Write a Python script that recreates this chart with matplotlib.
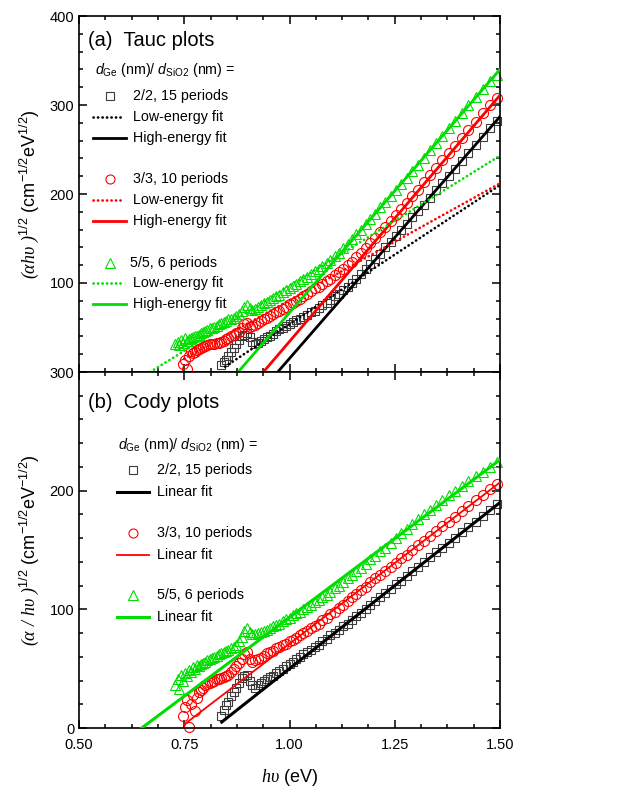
import matplotlib
matplotlib.use('Agg')
import matplotlib.pyplot as plt
from matplotlib.ticker import MultipleLocator

plt.rcParams['font.family'] = ['Liberation Sans', 'DejaVu Sans']
plt.rcParams['mathtext.fontset'] = 'custom'
plt.rcParams['mathtext.rm'] = 'Liberation Sans'
plt.rcParams['mathtext.it'] = 'Liberation Sans:italic'
plt.rcParams['mathtext.cal'] = 'Liberation Serif:italic'

# photon energy of the measured points (eV), high to low
hv = [1.494, 1.476, 1.459, 1.442, 1.425, 1.409, 1.393, 1.378, 1.363, 1.348,
      1.333, 1.319, 1.305, 1.292, 1.278, 1.265, 1.253, 1.240, 1.228, 1.216,
      1.204, 1.192, 1.181, 1.170, 1.159, 1.148, 1.138, 1.127, 1.117, 1.107,
      1.097, 1.088, 1.078, 1.069, 1.060, 1.051, 1.042, 1.033, 1.025, 1.016,
      1.008, 1.000, 0.992, 0.984, 0.976, 0.969, 0.961, 0.954, 0.947, 0.939,
      0.932, 0.925, 0.919, 0.912, 0.905, 0.899, 0.892, 0.886, 0.879, 0.873,
      0.867, 0.861, 0.855, 0.849, 0.844, 0.838, 0.832, 0.827, 0.821, 0.816,
      0.810, 0.805, 0.800, 0.795, 0.790, 0.785, 0.780, 0.775, 0.770, 0.765,
      0.761, 0.756, 0.752, 0.747, 0.743, 0.738, 0.734, 0.729]

# Tauc: (alpha*hv)^1/2
tauc_22 = [282, 274, 264, 255, 246, 237, 228, 220, 212, 204,
           196, 188, 181, 174, 166, 159, 153, 146, 140, 133,
           127, 121, 116, 110, 105, 100, 96, 92, 88, 85,
           81, 78, 75, 72, 69, 67, 64, 62, 60, 58,
           56, 54, 52, 50, 48, 46, 43, 41, 39, 37,
           35, 33, 32, 34, 39, 44, 42, 40, 36, 31,
           27, 22, 18, 14, 11, 8]
tauc_33 = [308, 300, 291, 281, 272, 263, 254, 246, 238, 229,
           221, 213, 205, 198, 190, 183, 176, 170, 163, 157,
           151, 145, 139, 134, 129, 124, 120, 116, 112, 109,
           105, 102, 99, 96, 94, 91, 88, 85, 82, 80,
           78, 76, 73, 71, 69, 67, 65, 63, 61, 59,
           57, 55, 53, 52, 51, 55, 54, 49, 45, 44,
           42, 40, 38, 37, 35, 34, 33, 33, 32, 31,
           31, 30, 29, 28, 27, 26, 25, 23, 21, 24,
           18, 3, 13, 9]
tauc_55 = [334, 327, 318, 309, 300, 291, 282, 274, 265, 257,
           249, 241, 233, 226, 218, 211, 204, 198, 191, 185,
           178, 172, 166, 160, 155, 149, 144, 139, 134, 130,
           126, 122, 119, 116, 113, 110, 107, 104, 102, 99,
           97, 94, 92, 90, 87, 85, 83, 81, 79, 77,
           75, 73, 71, 70, 72, 75, 73, 68, 65, 63,
           61, 60, 59, 57, 56, 55, 54, 52, 51, 50,
           49, 47, 46, 45, 44, 42, 41, 40, 39, 38,
           37, 35, 38, 33, 36, 30, 34, 31]

# Cody: (alpha/hv)^1/2
cody_22 = [189, 184, 179, 174, 169, 165, 160, 156, 152, 148,
           144, 140, 136, 132, 128, 124, 121, 117, 114, 110,
           107, 104, 100, 97, 94, 91, 88, 86, 83, 80,
           78, 75, 73, 70, 68, 66, 64, 62, 60, 58,
           56, 54, 52, 50, 48, 46, 44, 43, 41, 40,
           38, 36, 34, 36, 40, 45, 44, 42, 38, 34,
           30, 27, 22, 19, 15, 10]
cody_33 = [206, 201, 196, 192, 187, 183, 178, 174, 170, 166,
           162, 158, 154, 150, 146, 143, 139, 136, 132, 129,
           126, 123, 119, 116, 113, 110, 107, 104, 101, 98,
           96, 93, 91, 88, 86, 84, 82, 80, 78, 76,
           74, 73, 71, 70, 68, 67, 65, 64, 63, 61,
           59, 58, 57, 56, 58, 64, 62, 58, 55, 52,
           50, 47, 45, 44, 43, 42, 41, 41, 40, 39,
           38, 37, 36, 34, 32, 30, 25, 14, 28, 20,
           1, 24, 18, 10]
cody_55 = [224, 220, 216, 212, 208, 204, 200, 196, 192, 188,
           184, 180, 176, 172, 168, 164, 160, 156, 152, 149,
           145, 142, 138, 135, 132, 129, 126, 123, 120, 118,
           115, 112, 110, 108, 106, 104, 102, 100, 98, 97,
           95, 93, 92, 90, 88, 87, 86, 84, 83, 82,
           81, 80, 79, 79, 81, 84, 82, 77, 73, 70,
           68, 67, 66, 65, 64, 63, 62, 61, 60, 59,
           58, 57, 56, 55, 54, 52, 53, 50, 51, 47,
           49, 44, 46, 40, 45, 33, 41, 36]

# fit lines, end points (x, y)
tauc_low_x = [[0.847, 1.5], [0.75, 1.5], [0.669, 1.5]]
tauc_low_y = [[6, 210], [15, 212], [0, 243]]
tauc_high_x = [[0.972, 1.5], [0.938, 1.5], [0.878, 1.5]]
tauc_high_y = [[0, 287], [0, 311], [0, 340]]
cody_fit_x = [[0.839, 1.5], [0.75, 1.5], [0.649, 1.5]]
cody_fit_y = [[5, 190], [3, 207], [0, 226]]

samples = ['2/2, 15 periods', '3/3, 10 periods', '5/5, 6 periods']
colors = ['black', '#ff0000', '#00dd00']
edge = ['#3c3c3c', '#ff0000', '#00dd00']
markers = ['s', 'o', '^']
msizes = [6.3, 7.2, 7.8]     # data
ksizes = [5.5, 6.5, 7.0]     # legend keys
tauc = [tauc_22, tauc_33, tauc_55]
cody = [cody_22, cody_33, cody_55]
cody_lw = [2.2, 1.3, 2.2]

fig = plt.figure(figsize=(6.28, 7.89), dpi=100)
ax1 = fig.add_axes([79 / 628, 1 - 372 / 789, 421 / 628, 356 / 789])
ax2 = fig.add_axes([79 / 628, 1 - 728 / 789, 421 / 628, 356 / 789])

dots = dict(linestyle=(0, (0.1, 1.6)), dash_capstyle='round', lw=1.9)

for i in range(3):
    n = len(tauc[i])
    ax1.plot(hv[:n], tauc[i], markers[i], ms=msizes[i], mfc='none', mec=edge[i],
             mew=0.8, clip_on=False, zorder=2)
    ax1.plot(tauc_low_x[i], tauc_low_y[i], color=colors[i], zorder=3, **dots)
    ax1.plot(tauc_high_x[i], tauc_high_y[i], color=colors[i], lw=2.0, zorder=3)
    ax2.plot(hv[:n], cody[i], markers[i], ms=msizes[i], mfc='none', mec=edge[i],
             mew=0.8, clip_on=False, zorder=2)
    ax2.plot(cody_fit_x[i], cody_fit_y[i], color=colors[i], lw=cody_lw[i], zorder=3)

for ax in (ax1, ax2):
    ax.set_xlim(0.5, 1.5)
    ax.xaxis.set_major_locator(MultipleLocator(0.25))
    ax.xaxis.set_minor_locator(MultipleLocator(0.0625))
    ax.yaxis.set_major_locator(MultipleLocator(100))
    ax.yaxis.set_minor_locator(MultipleLocator(20))
    ax.tick_params(which='both', direction='in', top=True, right=True, width=1.1,
                   labelsize=10.5)
    ax.tick_params(which='major', length=6)
    ax.tick_params(which='minor', length=3)
    for s in ax.spines.values():
        s.set_linewidth(1.2)

ax1.set_ylim(0, 400)
ax1.set_yticks([0, 100, 200, 300, 400], ['', '100', '200', '300', '400'])
ax1.tick_params(labelbottom=False)
ax2.set_ylim(0, 300)
ax2.set_xticks([0.5, 0.75, 1.0, 1.25, 1.5], ['0.50', '0.75', '1.00', '1.25', '1.50'])
ax2.tick_params(axis='x', pad=7)

ax1.set_ylabel(r'$\mathcal{(\alpha h\upsilon\ )}^{1/2}$ (cm$^{-1/2}$eV$^{1/2}$)',
               fontsize=13, labelpad=6)
ax2.set_ylabel(r'$\mathcal{(\alpha\ /\ h\upsilon\ )}^{1/2}$ (cm$^{-1/2}$eV$^{-1/2}$)',
               fontsize=13, labelpad=6)
ax2.set_xlabel(r'$\mathcal{h\upsilon}$ (eV)', fontsize=13, labelpad=11)


def key(ax, y, x_line, txt, tx, **kw):
    ax.plot(x_line, [y] * len(x_line), transform=ax.transAxes, clip_on=False, **kw)
    ax.text(tx, y, txt, transform=ax.transAxes, va='center', fontsize=10.3)


# panel (a) legend
ax1.text(0.021, 0.93, '(a)  Tauc plots', transform=ax1.transAxes, va='center',
         fontsize=14.5)
ax1.text(0.038, 0.848, r'$d_{\mathrm{Ge}}$ (nm)/ $d_{\mathrm{SiO2}}$ (nm) =',
         transform=ax1.transAxes, va='center', fontsize=10.3)
rows = [0.775, 0.541, 0.307]
for i in range(3):
    y0 = rows[i]
    key(ax1, y0, [0.074], samples[i], 0.128 if i < 2 else 0.121, marker=markers[i],
        ms=ksizes[i], mfc='none', mec=edge[i], mew=0.8, ls='none')
    key(ax1, y0 - 0.058, [0.033, 0.105], 'Low-energy fit', 0.128, color=colors[i], **dots)
    key(ax1, y0 - 0.117, [0.033, 0.112], 'High-energy fit', 0.128, color=colors[i], lw=2.0)

# panel (b) legend
ax2.text(0.021, 0.913, '(b)  Cody plots', transform=ax2.transAxes, va='center',
         fontsize=14.5)
ax2.text(0.093, 0.795, r'$d_{\mathrm{Ge}}$ (nm)/ $d_{\mathrm{SiO2}}$ (nm) =',
         transform=ax2.transAxes, va='center', fontsize=10.3)
rows = [0.725, 0.548, 0.374]
for i in range(3):
    y0 = rows[i]
    key(ax2, y0, [0.128], samples[i], 0.185, marker=markers[i], ms=ksizes[i],
        mfc='none', mec=edge[i], mew=0.8, ls='none')
    key(ax2, y0 - 0.061, [0.090, 0.166], 'Linear fit', 0.185, color=colors[i],
        lw=cody_lw[i])

fig.savefig('out.png', dpi=100)
